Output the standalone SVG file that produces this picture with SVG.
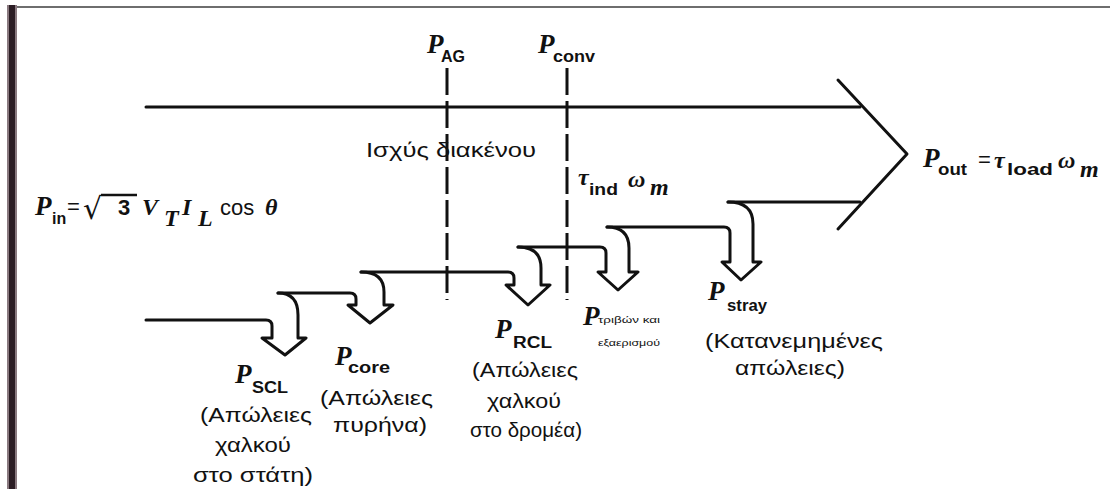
<svg xmlns="http://www.w3.org/2000/svg" width="1110" height="489" viewBox="0 0 1110 489">
<style>
.ln{fill:none;stroke:#111;stroke-width:3;stroke-linejoin:round;stroke-linecap:round}
.dash{fill:none;stroke:#111;stroke-width:3;stroke-dasharray:27 6}
.pi{font-family:"Liberation Serif",serif;font-style:italic;font-weight:bold;font-size:27px;fill:#111}
.it{font-family:"Liberation Serif",serif;font-style:italic;font-weight:bold;font-size:24px;fill:#111}
.sub{font-family:"Liberation Sans",sans-serif;font-weight:bold;font-size:16px;fill:#111}
.sn{font-family:"Liberation Sans",sans-serif;font-size:22px;fill:#111}
.gr{font-family:"Liberation Sans","DejaVu Sans",sans-serif;font-size:21px;fill:#111}
.tiny{font-family:"Liberation Sans",sans-serif;font-size:9px;fill:#111}
</style>
<rect width="1110" height="489" fill="#fff"/>
<g id="frame">
<rect x="7" y="5" width="10" height="484" fill="#8a7a80"/>
<rect x="9" y="5" width="6" height="484" fill="#2b1d24"/>
<line x1="17" y1="7" x2="1110" y2="7" stroke="#6e6e6e" stroke-width="2"/>
</g>
<g id="connectors">
<path class="ln" d="M146 107 H860"/>
<path class="ln" d="M838 80 L907 154 L838 229"/>
<path class="ln" d="M728 202 H860"/>
<path class="ln" d="M146 320 H266 Q272 320 272 326 V338 H262 L285 355 L306 338 H298 V315 Q298 293 278 293"/>
<path class="ln" d="M278 293 H350 Q356 293 356 299 V305 H348 L370 323 L393 305 H384 V292 Q384 272 361 272"/>
<path class="ln" d="M361 272 H508 Q514 272 514 278 V285 H506 L528 305 L550 285 H541 V268 Q541 247 518 247"/>
<path class="ln" d="M518 247 H600 Q606 247 606 253 V272 H598 L618 290 L638 272 H629 V248 Q629 227 607 227"/>
<path class="ln" d="M607 227 H724 Q730 227 730 233 V262 H722 L741 280 L761 262 H753 V224 Q753 202 728 202"/>
<line class="dash" x1="447" y1="68" x2="447" y2="300"/>
<line class="dash" x1="567" y1="68" x2="567" y2="300"/>
</g>
<g id="pin">
<text class="pi" x="35" y="215">P</text>
<text class="sub" x="52" y="224" font-size="13">in</text>
<text class="sn" x="67" y="214">=</text>
<text x="83" y="219" font-family="DejaVu Sans,sans-serif" font-size="30" fill="#111">√</text>
<line x1="101" y1="195" x2="137" y2="195" stroke="#111" stroke-width="2.5"/>
<text class="sn" x="118" y="215" font-weight="bold" font-size="24">3</text>
<text class="it" x="142" y="215">V</text>
<text class="it" x="164" y="226" font-size="17">T</text>
<text class="it" x="182" y="215">I</text>
<text class="it" x="198" y="226" font-size="17">L</text>
<text class="sn" x="220" y="215">cos</text>
<text class="it" x="265" y="215">θ</text>
</g>
<g id="pag">
<text class="pi" x="427" y="53">P</text>
<text class="sub" x="441" y="62" font-size="17">AG</text>
<text class="gr" x="366" y="157" textLength="170" lengthAdjust="spacingAndGlyphs">Ισχύς διακένου</text>
</g>
<g id="pconv">
<text class="pi" x="538" y="53">P</text>
<text class="sub" x="553" y="62" font-size="15" textLength="42" lengthAdjust="spacingAndGlyphs">conv</text>
<text class="it" x="578" y="185">τ</text>
<text class="sub" x="589" y="195" font-size="15" textLength="29" lengthAdjust="spacingAndGlyphs">ind</text>
<text class="it" x="628" y="187" font-size="20">ω</text>
<text class="it" x="650" y="195" font-size="14">m</text>
</g>
<g id="pout">
<text class="pi" x="923" y="167">P</text>
<text class="sub" x="938" y="175" font-size="15" textLength="29" lengthAdjust="spacingAndGlyphs">out</text>
<text class="sn" x="978" y="167">=</text>
<text class="it" x="994" y="168">τ</text>
<text class="sub" x="1007" y="175" font-size="15" textLength="46" lengthAdjust="spacingAndGlyphs">load</text>
<text class="it" x="1058" y="168" font-size="20">ω</text>
<text class="it" x="1080" y="177" font-size="14">m</text>
</g>
<g id="scl">
<text class="pi" x="235" y="383">P</text>
<text class="sub" x="252" y="393" textLength="36" lengthAdjust="spacingAndGlyphs">SCL</text>
<text class="gr" x="200" y="422" textLength="112" lengthAdjust="spacingAndGlyphs">(Απώλειες</text>
<text class="gr" x="215" y="452" textLength="76" lengthAdjust="spacingAndGlyphs">χαλκού</text>
<text class="gr" x="193" y="482" textLength="120" lengthAdjust="spacingAndGlyphs">στο στάτη)</text>
</g>
<g id="core">
<text class="pi" x="335" y="365">P</text>
<text class="sub" x="348" y="373" font-size="15" textLength="42" lengthAdjust="spacingAndGlyphs">core</text>
<text class="gr" x="320" y="405" textLength="113" lengthAdjust="spacingAndGlyphs">(Απώλειες</text>
<text class="gr" x="333" y="432" textLength="94" lengthAdjust="spacingAndGlyphs">πυρήνα)</text>
</g>
<g id="rcl">
<text class="pi" x="495" y="338">P</text>
<text class="sub" x="513" y="348" textLength="39" lengthAdjust="spacingAndGlyphs">RCL</text>
<text class="gr" x="472" y="377" textLength="106" lengthAdjust="spacingAndGlyphs">(Απώλειες</text>
<text class="gr" x="487" y="408" textLength="74" lengthAdjust="spacingAndGlyphs">χαλκού</text>
<text class="gr" x="470" y="437" textLength="112" lengthAdjust="spacingAndGlyphs">στο δρομέα)</text>
</g>
<g id="friction">
<text class="pi" x="583" y="325">P</text>
<text class="tiny" x="598" y="323" textLength="62" lengthAdjust="spacingAndGlyphs">τριβών και</text>
<text class="tiny" x="598" y="346" textLength="62" lengthAdjust="spacingAndGlyphs">εξαερισμού</text>
</g>
<g id="stray">
<text class="pi" x="708" y="300">P</text>
<text class="sub" x="727" y="311" font-size="15" textLength="40" lengthAdjust="spacingAndGlyphs">stray</text>
<text class="gr" x="705" y="348" textLength="178" lengthAdjust="spacingAndGlyphs">(Κατανεμημένες</text>
<text class="gr" x="735" y="375" textLength="110" lengthAdjust="spacingAndGlyphs">απώλειες)</text>
</g>
</svg>
